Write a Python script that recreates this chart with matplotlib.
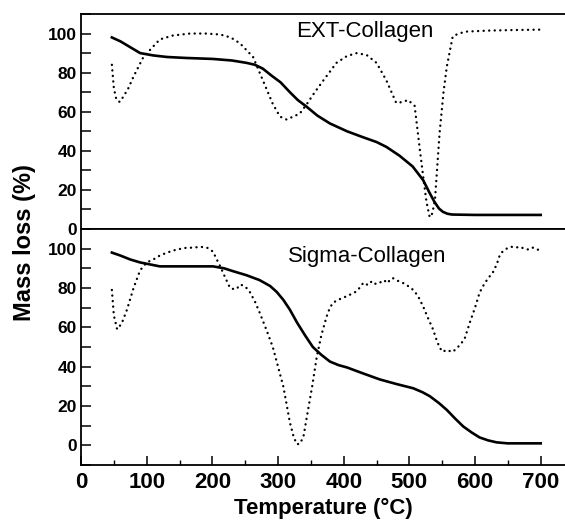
import matplotlib
matplotlib.use("Agg")
import matplotlib.pyplot as plt
from matplotlib.ticker import MultipleLocator

plt.rcParams['font.family'] = ['Liberation Sans', 'DejaVu Sans']

# EXT-Collagen: TG (mass loss) curve
ext_tg_T = [47, 60, 75, 90, 110, 131, 160, 201, 230, 252, 265, 277, 290, 304,
            318, 330, 343, 360, 379, 405, 429, 450, 465, 485, 505, 521, 530,
            538, 545, 551, 558, 565, 600, 650, 700]
ext_tg_v = [98, 96, 93, 90, 88.8, 88, 87.5, 87, 86.2, 85, 84, 82, 78.5, 75,
            70, 66, 62.7, 58, 54, 50, 47, 44.5, 42, 37.5, 32, 25, 19,
            14, 10.5, 8.8, 7.8, 7.4, 7.2, 7.2, 7.2]

# EXT-Collagen: derivative (DTG) curve
ext_dtg_T = [47, 50, 54, 59, 65, 72, 80, 95, 120, 140, 166, 190, 212, 228,
             242, 262, 277, 292, 303, 313, 323, 333, 344, 356, 369, 389, 405,
             420, 435, 450, 465, 480, 490, 498, 508, 516, 521, 526, 531, 535,
             539, 546, 552, 557, 566, 575, 587, 620, 660, 699]
ext_dtg_v = [84, 72, 66, 65, 68, 72, 78, 88, 97, 99, 100, 100, 99.5, 98,
             95, 88, 76, 64, 57.5, 56, 57.5, 59, 64, 70, 76, 85, 88.5,
             90, 89, 85, 76, 64.5, 65, 66, 63, 40.5, 27, 14, 6, 8,
             15, 49, 70, 83, 98.5, 100, 101, 101.5, 101.8, 102]

# Sigma-Collagen: TG (mass loss) curve
sig_tg_T = [47, 60, 75, 90, 120, 160, 201, 218, 232, 252, 272, 288, 298, 308,
            318, 329, 341, 353, 366, 379, 392, 405, 430, 455, 480, 506, 520,
            531, 545, 557, 570, 582, 595, 607, 620, 633, 650, 700]
sig_tg_v = [98, 96.5, 94.5, 93, 91, 91, 91, 90, 88.5, 86.5, 84, 81, 78, 74,
            69, 62.4, 56, 50, 46, 42.6, 40.8, 39.6, 36.5, 33.5, 31.2, 29, 27,
            25, 21.5, 18, 13.5, 9.6, 6.5, 4, 2.5, 1.5, 1, 1]

# Sigma-Collagen: derivative (DTG) curve
sig_dtg_T = [47, 50, 55, 62, 70, 80, 90, 100, 110, 120, 131, 145, 161, 172,
             181, 192, 201, 206, 212, 220, 227, 232, 237, 242, 247, 252, 257,
             265, 272, 282, 292, 300, 308, 313, 318, 324, 329, 334, 339, 344,
             352, 359, 366, 374, 379, 384, 392, 398, 404, 412, 418, 424, 430,
             437, 443, 449, 455, 461, 467, 471, 475, 480, 487, 494, 500, 506,
             513, 521, 528, 536, 541, 546, 551, 556, 561, 566, 571, 577, 584,
             592, 600, 607, 614, 620, 627, 633, 638, 642, 648, 655, 662, 668,
             675, 682, 688, 694, 699]
sig_dtg_v = [79, 66, 59, 62, 69, 80, 89, 93, 94.5, 96.5, 98, 99.5, 100.5, 100.5,
             101, 100.5, 98.5, 95, 91, 85, 80, 79.5, 79.5, 81.7, 81.3, 80, 78,
             73, 67.5, 59, 50, 40, 30, 21, 11.7, 4, 0.5, 1, 5, 14.7,
             30, 45, 56, 65.5, 70, 72.6, 74, 75, 75.7, 77, 78, 80, 82.7,
             81.5, 83.5, 82, 82.7, 84, 82.5, 84.5, 85, 84, 83, 82, 80.5, 79,
             76, 70.6, 65, 59, 54, 49.7, 47.5, 48.5, 48, 47.5, 49, 51, 54,
             62.4, 70, 77.7, 82, 85, 87.8, 92, 97, 98.5, 100, 101, 100.5, 101,
             100, 99.5, 100.5, 99.5, 99.5]

x_ticks = [0, 100, 200, 300, 400, 500, 600, 700]
y_ticks = [0, 20, 40, 60, 80, 100]

fig = plt.figure(figsize=(5.65, 5.2), dpi=100)
ax_top = fig.add_axes([0.1434, 0.5596, 0.8566, 0.4135])
ax_bot = fig.add_axes([0.1434, 0.1058, 0.8566, 0.4538], sharex=ax_top)

dot_style = dict(color='black', lw=1.7, linestyle=(0, (0.05, 2.3)),
                 dash_capstyle='round', solid_capstyle='round')
solid_style = dict(color='black', lw=1.9, solid_joinstyle='round')

ax_top.plot(ext_dtg_T, ext_dtg_v, **dot_style)
ax_top.plot(ext_tg_T, ext_tg_v, **solid_style)
ax_bot.plot(sig_dtg_T, sig_dtg_v, **dot_style)
ax_bot.plot(sig_tg_T, sig_tg_v, **solid_style)

ax_top.set_ylim(0, 110)
ax_bot.set_ylim(-10, 110)
ax_bot.set_xlim(0, 737)

for ax in (ax_top, ax_bot):
    ax.spines['right'].set_visible(False)
    for s in ('left', 'top', 'bottom'):
        ax.spines[s].set_linewidth(1.3)
    ax.set_yticks(y_ticks)
    ax.yaxis.set_minor_locator(MultipleLocator(10))
    ax.tick_params(axis='y', which='both', direction='in', length=7.5,
                   width=1.1, labelsize=12.5, pad=3, right=False)
    for lab in ax.get_yticklabels():
        lab.set_fontweight('bold')

ax_top.tick_params(axis='x', which='both', bottom=False, top=False,
                   labelbottom=False)

ax_bot.set_xticks(x_ticks)
ax_bot.xaxis.set_minor_locator(MultipleLocator(50))
ax_bot.tick_params(axis='x', which='major', direction='in', length=6.5,
                   width=1.1, labelsize=16, pad=5, top=False)
ax_bot.tick_params(axis='x', which='minor', direction='in', length=3.5,
                   width=1.0, top=False)
for lab in ax_bot.get_xticklabels():
    lab.set_fontweight('bold')

ax_top.text(432, 101, 'EXT-Collagen', fontsize=16, ha='center', va='center')
ax_bot.text(436, 96, 'Sigma-Collagen', fontsize=16, ha='center', va='center')

ax_bot.set_xlabel('Temperature (°C)', fontsize=16, fontweight='bold',
                  labelpad=3.5)
fig.text(0.044, 0.533, 'Mass loss (%)', rotation=90, fontsize=17,
         fontweight='bold', ha='center', va='center')

fig.savefig('out.png', dpi=100)
